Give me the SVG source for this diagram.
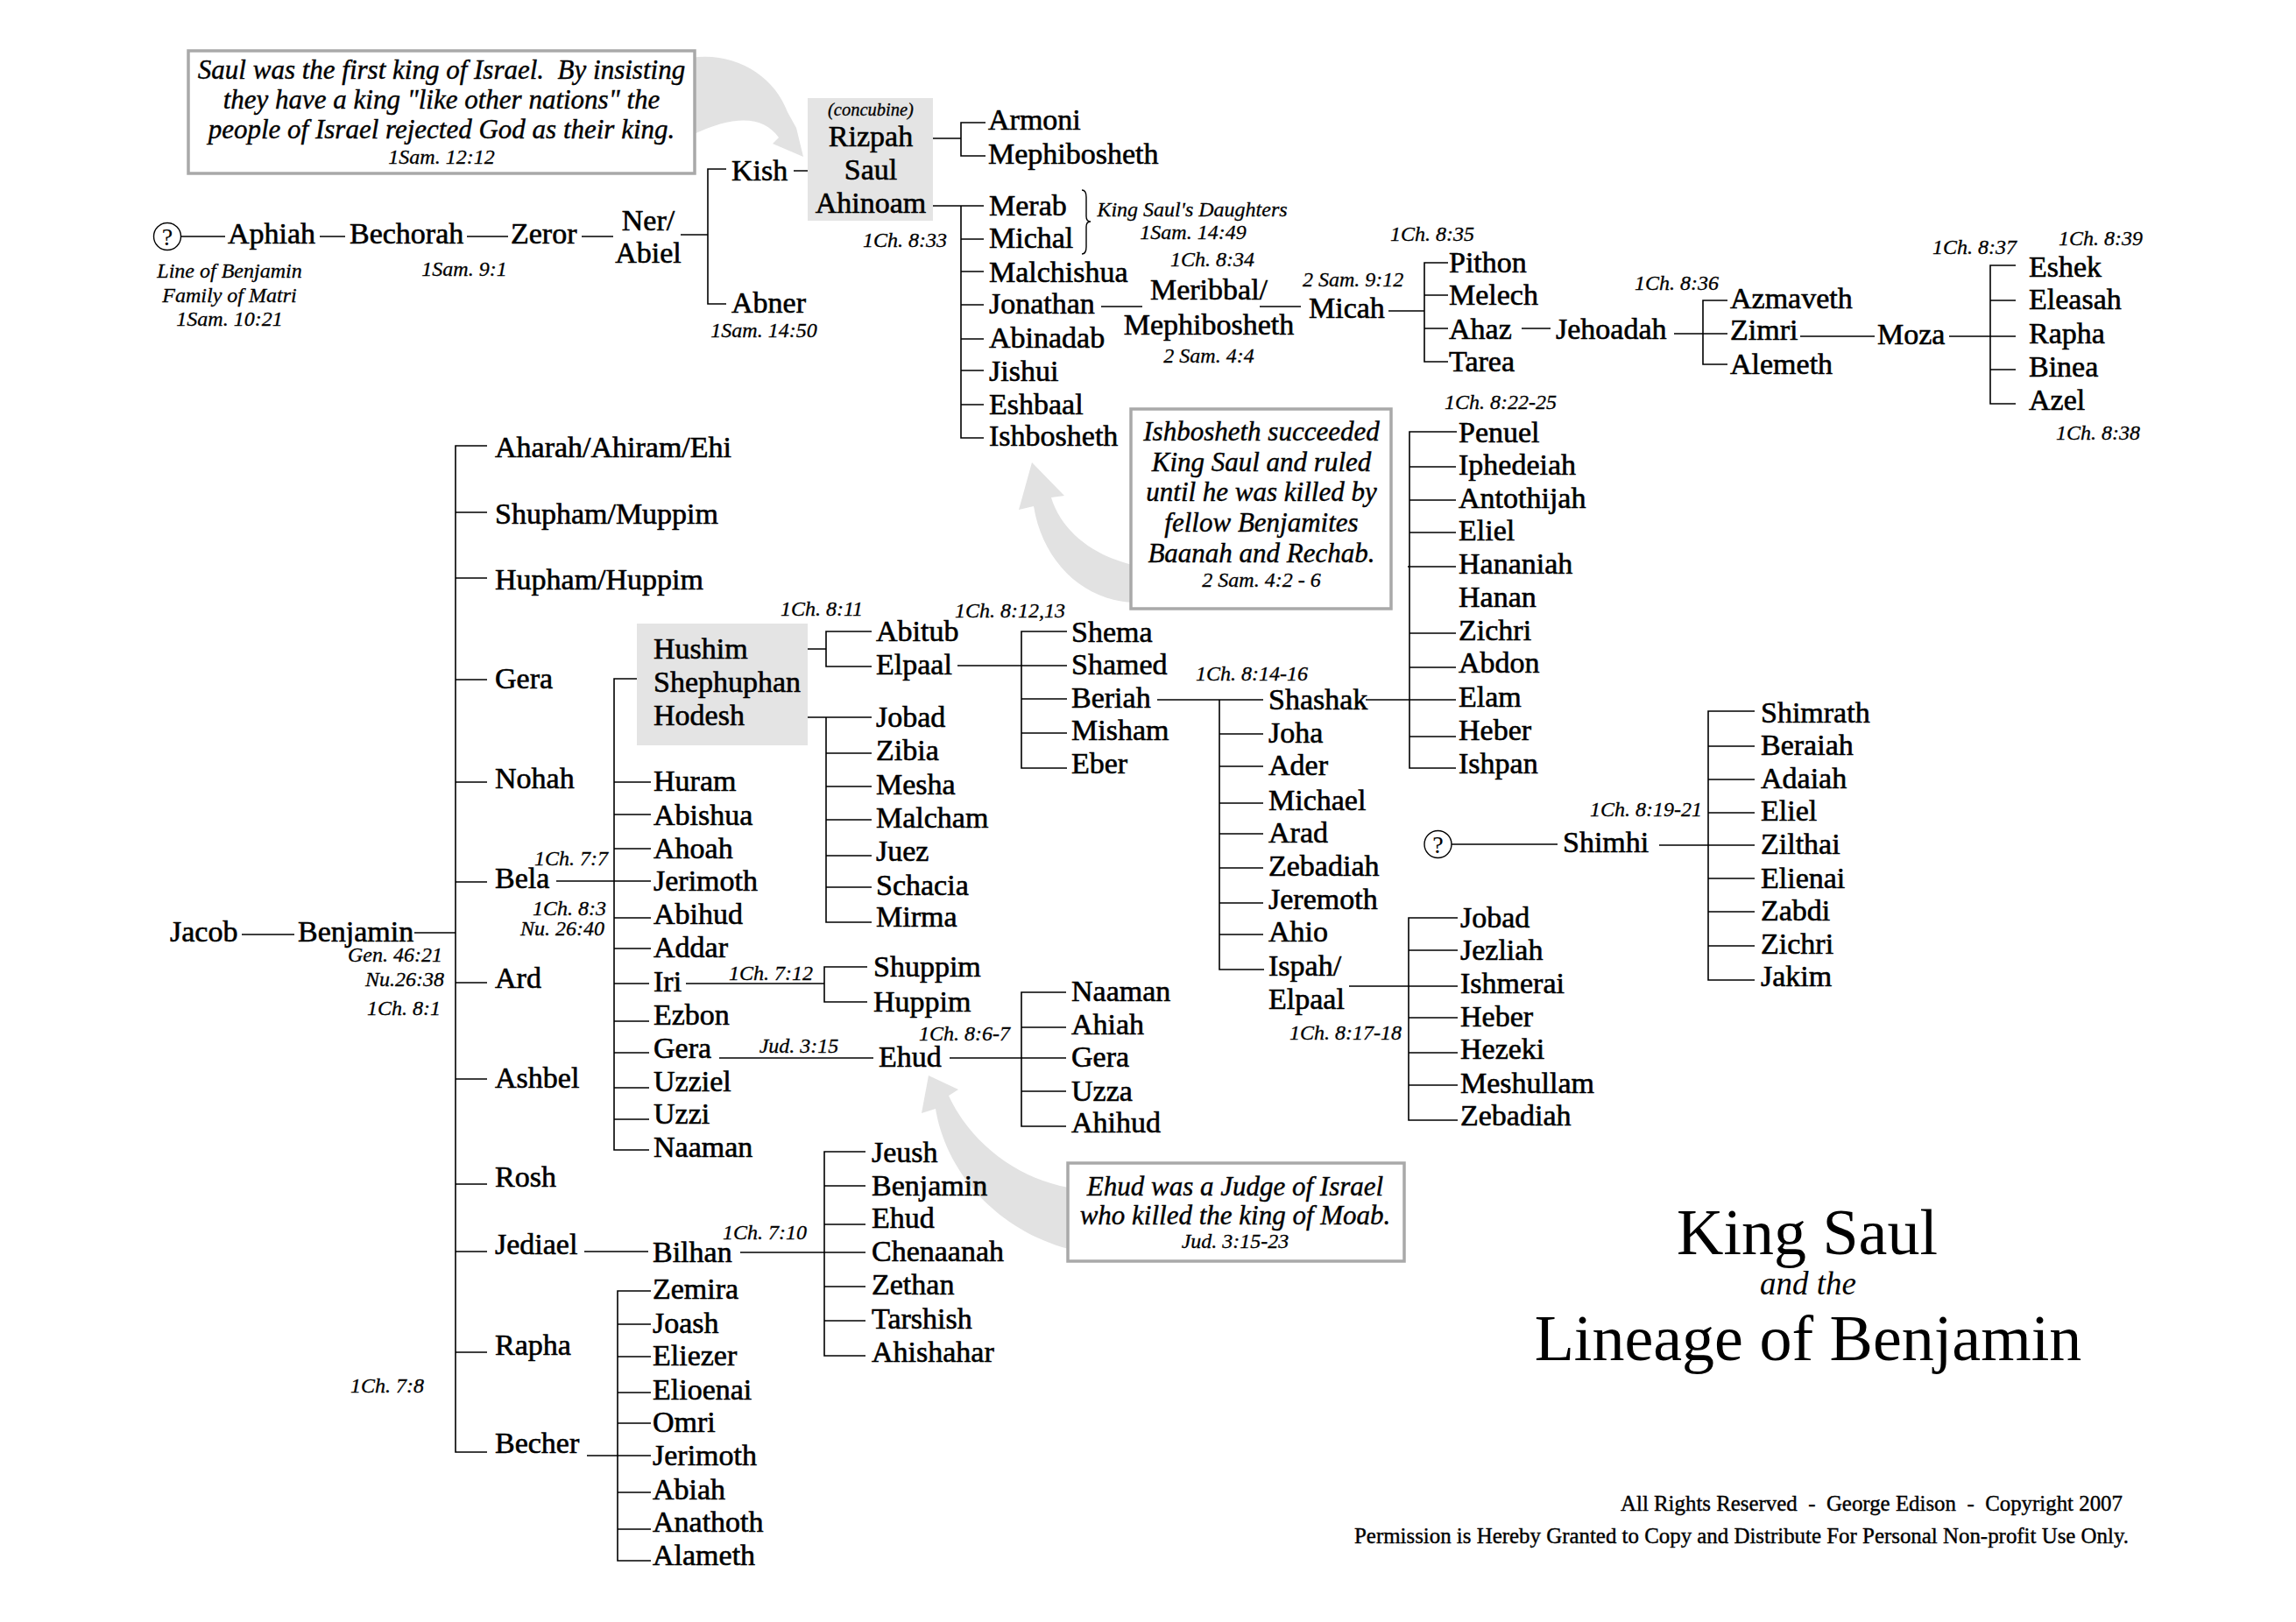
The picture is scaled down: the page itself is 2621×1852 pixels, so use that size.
<svg xmlns="http://www.w3.org/2000/svg" width="2621" height="1852" viewBox="0 0 2621 1852">
<style>
text{font-family:"Liberation Serif","Times New Roman",serif;fill:#000}
.n{font-size:34px;stroke:#000;stroke-width:0.6}
.r{font-size:24px;font-style:italic;stroke:#000;stroke-width:0.3}
.a{font-size:31px;font-style:italic;text-anchor:middle;stroke:#000;stroke-width:0.4}
.c{text-anchor:middle}
.e{text-anchor:end}
.ln{stroke:#000;stroke-width:1.6;fill:none}
.box{fill:#fff;stroke:#a9a9a9;stroke-width:3.5}
.gbox{fill:#e4e4e4}
.arr{fill:#e2e2e2}
.q{fill:none;stroke:#000;stroke-width:1.4}
</style>
<rect width="2621" height="1852" fill="#fff"/>
<g id="arrows">
<path class="arr" d="M788,66 C838,58 884,86 899,128 L909,146 L917,179 L882,164 L889,157 C872,133 840,130 790,154 Z"/>
<path class="arr" d="M1293,688 C1235,685 1190,640 1180,578 L1163,582 L1178,528 L1215,566 L1200,568 C1212,608 1250,635 1293,645 Z"/>
<path class="arr" d="M1220,1426 C1140,1405 1080,1340 1068,1266 L1052,1271 L1060,1228 L1094,1244 L1083,1251 C1108,1305 1160,1345 1220,1356 Z"/>
</g>
<g id="connectors">
<path class="ln" d="M207,270H257M365,270H394M533,270H580M664,270H700M777,268H808M829,193H808V347H829M906,195H940"/>
<path class="ln" d="M1050,158H1097M1125,140H1097V178H1125"/>
<path class="ln" d="M1061,235H1123M1097,235V500H1123M1097,273H1123M1097,310H1123M1097,348H1123M1097,387H1123M1097,423H1123M1097,462H1123"/>
<path class="q" d="M1235,217Q1240,217 1240,225V247Q1240,253 1245,253Q1240,253 1240,259V282Q1240,290 1235,290"/>
<path class="ln" d="M1257,350H1304M1438,350H1485M1585,355H1626M1653,300H1626V413H1653M1626,337H1653M1626,375H1653"/>
<path class="ln" d="M1737,375H1770M1911,381H1972M1972,343H1944V416H1972M2055,384H2140M2225,384H2301M2301,303H2272V461H2301M2272,343H2301M2272,422H2301"/>
<path class="ln" d="M276,1067H336M473,1065H520M556,509H520V1658H556M520,585H556M520,660H556M520,776H556M520,893H556M520,1007H556M520,1122H556M520,1232H556M520,1352H556M520,1429H556M520,1544H556"/>
<path class="ln" d="M635,1006H743M743,775H701V1313H741M701,893H743M701,930H743M701,969H743M701,1048H743M701,1083H743M701,1123H741M701,1166H741M701,1202H741M701,1242H741M701,1278H741"/>
<path class="ln" d="M865,741H943M995,721H943V761H995M862,819H995M943,819V1053H995M943,860H995M943,898H995M943,936H995M943,977H995M943,1013H995"/>
<path class="ln" d="M1093,760H1218M1218,721H1166V877H1218M1166,798H1218M1166,837H1218"/>
<path class="ln" d="M1321,799H1442M1392,799V1107H1443M1392,838H1442M1392,875H1442M1392,917H1442M1392,952H1442M1392,991H1442M1392,1031H1442M1392,1067H1442"/>
<path class="ln" d="M1559,799H1662M1663,493H1609V877H1662M1609,533H1662M1609,571H1662M1609,608H1662M1607,647H1662M1609,723H1662M1609,762H1662M1609,841H1662"/>
<path class="ln" d="M1540,1126H1664M1664,1048H1608V1279H1664M1608,1085H1664M1608,1162H1664M1608,1202H1664M1608,1239H1664"/>
<path class="ln" d="M1657,964H1778M1894,965H2003M2003,812H1950V1119H2003M1950,852H2003M1950,890H2003M1950,928H2003M1950,1003H2003M1950,1041H2003M1950,1080H2003"/>
<path class="ln" d="M783,1123H941M990,1104H941V1144H990M821,1208H997M1084,1208H1217M1217,1133H1166V1286H1217M1166,1173H1217M1166,1246H1217"/>
<path class="ln" d="M667,1429H740M845,1430H988M988,1315H941V1548H988M941,1354H988M941,1398H988M941,1469H988M941,1508H988"/>
<path class="ln" d="M670,1662H743M743,1474H705V1782H743M705,1512H743M705,1549H743M705,1590H743M705,1625H743M705,1704H743M705,1746H743"/>
</g>
<g id="note-saul">
<rect class="box" x="215" y="58" width="578" height="140"/>
<text class="a" x="504" y="90" xml:space="preserve">Saul was the first king of Israel.  By insisting</text>
<text class="a" x="504" y="124">they have a king "like other nations" the</text>
<text class="a" x="504" y="158">people of Israel rejected God as their king.</text>
<text class="r c" x="504" y="187">1Sam. 12:12</text>
</g>
<g id="note-ishbosheth">
<rect class="box" x="1291" y="467" width="297" height="228"/>
<text class="a" x="1440" y="503">Ishbosheth succeeded</text>
<text class="a" x="1440" y="538">King Saul and ruled</text>
<text class="a" x="1440" y="572">until he was killed by</text>
<text class="a" x="1440" y="607">fellow Benjamites</text>
<text class="a" x="1440" y="642">Baanah and Rechab.</text>
<text class="r c" x="1440" y="670">2 Sam. 4:2 - 6</text>
</g>
<g id="note-ehud">
<rect class="box" x="1219" y="1328" width="384" height="112"/>
<text class="a" x="1410" y="1365">Ehud was a Judge of Israel</text>
<text class="a" x="1410" y="1398">who killed the king of Moab.</text>
<text class="r c" x="1410" y="1425">Jud. 3:15-23</text>
</g>
<g id="unknown1"><circle class="q" cx="191" cy="270" r="15.5"/><text class="c" x="191" y="280" font-size="28">?</text></g>
<g id="aphiah"><text class="n" x="260" y="278">Aphiah</text></g>
<g id="bechorah"><text class="n" x="399" y="278">Bechorah</text></g>
<g id="zeror"><text class="n" x="583" y="278">Zeror</text></g>
<g id="ner"><text class="n c" x="740" y="263">Ner/</text><text class="n c" x="740" y="300">Abiel</text></g>
<g id="kish"><text class="n" x="835" y="206">Kish</text></g>
<g id="abner"><text class="n" x="835" y="357">Abner</text></g>
<g id="refs-top">
<text class="r c" x="262" y="317">Line of Benjamin</text>
<text class="r c" x="262" y="345">Family of Matri</text>
<text class="r c" x="262" y="372">1Sam. 10:21</text>
<text class="r c" x="530" y="315">1Sam. 9:1</text>
<text class="r c" x="872" y="385">1Sam. 14:50</text>
<text class="r e" x="1081" y="282">1Ch. 8:33</text>
<text class="r c" x="1361" y="247">King Saul's Daughters</text>
<text class="r c" x="1362" y="273">1Sam. 14:49</text>
<text class="r c" x="1384" y="304">1Ch. 8:34</text>
<text class="r c" x="1380" y="414">2 Sam. 4:4</text>
<text class="r" x="1487" y="327">2 Sam. 9:12</text>
<text class="r c" x="1635" y="275">1Ch. 8:35</text>
<text class="r c" x="1914" y="331">1Ch. 8:36</text>
<text class="r c" x="2254" y="290">1Ch. 8:37</text>
<text class="r c" x="2398" y="280">1Ch. 8:39</text>
<text class="r c" x="2395" y="502">1Ch. 8:38</text>
<text class="r c" x="1713" y="467">1Ch. 8:22-25</text>
</g>
<g id="saul-family">
<rect class="gbox" x="922" y="112" width="143" height="140"/>
<text class="c" x="994" y="132" font-size="20.5" font-style="italic" stroke="#000" stroke-width="0.3">(concubine)</text>
<text class="n c" x="994" y="167">Rizpah</text>
<text class="n c" x="994" y="205">Saul</text>
<text class="n c" x="994" y="243">Ahinoam</text>
</g>
<g id="armoni"><text class="n" x="1128" y="148">Armoni</text></g>
<g id="mephibosheth1"><text class="n" x="1128" y="187">Mephibosheth</text></g>
<g id="merab"><text class="n" x="1129" y="246">Merab</text></g>
<g id="michal"><text class="n" x="1129" y="283">Michal</text></g>
<g id="malchishua"><text class="n" x="1129" y="322">Malchishua</text></g>
<g id="jonathan"><text class="n" x="1129" y="358">Jonathan</text></g>
<g id="abinadab"><text class="n" x="1129" y="397">Abinadab</text></g>
<g id="jishui"><text class="n" x="1129" y="435">Jishui</text></g>
<g id="eshbaal"><text class="n" x="1129" y="473">Eshbaal</text></g>
<g id="ishbosheth"><text class="n" x="1129" y="509">Ishbosheth</text></g>
<g id="meribbal"><text class="n c" x="1380" y="342">Meribbal/</text><text class="n c" x="1380" y="382">Mephibosheth</text></g>
<g id="micah"><text class="n" x="1494" y="363">Micah</text></g>
<g id="pithon"><text class="n" x="1654" y="311">Pithon</text></g>
<g id="melech"><text class="n" x="1654" y="348">Melech</text></g>
<g id="ahaz"><text class="n" x="1654" y="387">Ahaz</text></g>
<g id="tarea"><text class="n" x="1654" y="424">Tarea</text></g>
<g id="jehoadah"><text class="n" x="1776" y="387">Jehoadah</text></g>
<g id="azmaveth"><text class="n" x="1975" y="352">Azmaveth</text></g>
<g id="zimri"><text class="n" x="1975" y="388">Zimri</text></g>
<g id="alemeth"><text class="n" x="1975" y="427">Alemeth</text></g>
<g id="moza"><text class="n" x="2143" y="393">Moza</text></g>
<g id="eshek"><text class="n" x="2316" y="316">Eshek</text></g>
<g id="eleasah"><text class="n" x="2316" y="353">Eleasah</text></g>
<g id="rapha2"><text class="n" x="2316" y="392">Rapha</text></g>
<g id="binea"><text class="n" x="2316" y="430">Binea</text></g>
<g id="azel"><text class="n" x="2316" y="468">Azel</text></g>
<g id="penuel"><text class="n" x="1665" y="505">Penuel</text></g>
<g id="iphedeiah"><text class="n" x="1665" y="542">Iphedeiah</text></g>
<g id="antothijah"><text class="n" x="1665" y="580">Antothijah</text></g>
<g id="eliel1"><text class="n" x="1665" y="617">Eliel</text></g>
<g id="hananiah"><text class="n" x="1665" y="655">Hananiah</text></g>
<g id="hanan"><text class="n" x="1665" y="693">Hanan</text></g>
<g id="zichri1"><text class="n" x="1665" y="731">Zichri</text></g>
<g id="abdon"><text class="n" x="1665" y="768">Abdon</text></g>
<g id="elam"><text class="n" x="1665" y="807">Elam</text></g>
<g id="heber1"><text class="n" x="1665" y="845">Heber</text></g>
<g id="ishpan"><text class="n" x="1665" y="883">Ishpan</text></g>
<g id="jacob"><text class="n" x="194" y="1075">Jacob</text></g>
<g id="benjamin"><text class="n" x="340" y="1075">Benjamin</text></g>
<g id="refs-benjamin">
<text class="r" x="397" y="1098">Gen. 46:21</text>
<text class="r" x="417" y="1126">Nu.26:38</text>
<text class="r" x="419" y="1159">1Ch. 8:1</text>
<text class="r" x="610" y="988">1Ch. 7:7</text>
<text class="r" x="608" y="1045">1Ch. 8:3</text>
<text class="r" x="594" y="1068">Nu. 26:40</text>
<text class="r c" x="442" y="1590">1Ch. 7:8</text>
<text class="r c" x="938" y="703">1Ch. 8:11</text>
<text class="r c" x="1153" y="705">1Ch. 8:12,13</text>
<text class="r c" x="1429" y="777">1Ch. 8:14-16</text>
<text class="r e" x="1600" y="1187">1Ch. 8:17-18</text>
<text class="r e" x="1943" y="932">1Ch. 8:19-21</text>
<text class="r c" x="880" y="1119">1Ch. 7:12</text>
<text class="r c" x="912" y="1202">Jud. 3:15</text>
<text class="r c" x="1101" y="1188">1Ch. 8:6-7</text>
<text class="r c" x="873" y="1415">1Ch. 7:10</text>
</g>
<g id="aharah"><text class="n" x="565" y="522">Aharah/Ahiram/Ehi</text></g>
<g id="shupham"><text class="n" x="565" y="598">Shupham/Muppim</text></g>
<g id="hupham"><text class="n" x="565" y="673">Hupham/Huppim</text></g>
<g id="gera1"><text class="n" x="565" y="786">Gera</text></g>
<g id="nohah"><text class="n" x="565" y="900">Nohah</text></g>
<g id="bela"><text class="n" x="565" y="1014">Bela</text></g>
<g id="ard"><text class="n" x="565" y="1128">Ard</text></g>
<g id="ashbel"><text class="n" x="565" y="1242">Ashbel</text></g>
<g id="rosh"><text class="n" x="565" y="1355">Rosh</text></g>
<g id="jediael"><text class="n" x="565" y="1432">Jediael</text></g>
<g id="rapha1"><text class="n" x="565" y="1547">Rapha</text></g>
<g id="becher"><text class="n" x="565" y="1659">Becher</text></g>
<g id="gera-sons">
<rect class="gbox" x="727" y="712" width="195" height="139"/>
<text class="n" x="746" y="752">Hushim</text>
<text class="n" x="746" y="790">Shephuphan</text>
<text class="n" x="746" y="828">Hodesh</text>
</g>
<g id="huram"><text class="n" x="746" y="903">Huram</text></g>
<g id="abishua"><text class="n" x="746" y="942">Abishua</text></g>
<g id="ahoah"><text class="n" x="746" y="980">Ahoah</text></g>
<g id="jerimoth1"><text class="n" x="746" y="1017">Jerimoth</text></g>
<g id="abihud"><text class="n" x="746" y="1055">Abihud</text></g>
<g id="addar"><text class="n" x="746" y="1093">Addar</text></g>
<g id="iri"><text class="n" x="746" y="1132">Iri</text></g>
<g id="ezbon"><text class="n" x="746" y="1170">Ezbon</text></g>
<g id="gera2"><text class="n" x="746" y="1208">Gera</text></g>
<g id="uzziel"><text class="n" x="746" y="1246">Uzziel</text></g>
<g id="uzzi"><text class="n" x="746" y="1283">Uzzi</text></g>
<g id="naaman1"><text class="n" x="746" y="1321">Naaman</text></g>
<g id="abitub"><text class="n" x="1000" y="732">Abitub</text></g>
<g id="elpaal1"><text class="n" x="1000" y="770">Elpaal</text></g>
<g id="jobad1"><text class="n" x="1000" y="830">Jobad</text></g>
<g id="zibia"><text class="n" x="1000" y="868">Zibia</text></g>
<g id="mesha"><text class="n" x="1000" y="907">Mesha</text></g>
<g id="malcham"><text class="n" x="1000" y="945">Malcham</text></g>
<g id="juez"><text class="n" x="1000" y="983">Juez</text></g>
<g id="schacia"><text class="n" x="1000" y="1022">Schacia</text></g>
<g id="mirma"><text class="n" x="1000" y="1058">Mirma</text></g>
<g id="shema"><text class="n" x="1223" y="733">Shema</text></g>
<g id="shamed"><text class="n" x="1223" y="770">Shamed</text></g>
<g id="beriah"><text class="n" x="1223" y="808">Beriah</text></g>
<g id="misham"><text class="n" x="1223" y="845">Misham</text></g>
<g id="eber"><text class="n" x="1223" y="883">Eber</text></g>
<g id="shashak"><text class="n" x="1448" y="810">Shashak</text></g>
<g id="joha"><text class="n" x="1448" y="848">Joha</text></g>
<g id="ader"><text class="n" x="1448" y="885">Ader</text></g>
<g id="michael"><text class="n" x="1448" y="925">Michael</text></g>
<g id="arad"><text class="n" x="1448" y="962">Arad</text></g>
<g id="zebadiah1"><text class="n" x="1448" y="1000">Zebadiah</text></g>
<g id="jeremoth"><text class="n" x="1448" y="1038">Jeremoth</text></g>
<g id="ahio"><text class="n" x="1448" y="1075">Ahio</text></g>
<g id="ispah"><text class="n" x="1448" y="1114">Ispah/</text><text class="n" x="1448" y="1152">Elpaal</text></g>
<g id="jobad2"><text class="n" x="1667" y="1059">Jobad</text></g>
<g id="jezliah"><text class="n" x="1667" y="1096">Jezliah</text></g>
<g id="ishmerai"><text class="n" x="1667" y="1134">Ishmerai</text></g>
<g id="heber2"><text class="n" x="1667" y="1172">Heber</text></g>
<g id="hezeki"><text class="n" x="1667" y="1209">Hezeki</text></g>
<g id="meshullam"><text class="n" x="1667" y="1248">Meshullam</text></g>
<g id="zebadiah2"><text class="n" x="1667" y="1285">Zebadiah</text></g>
<g id="unknown2"><circle class="q" cx="1641.5" cy="964" r="15.5"/><text class="c" x="1641.5" y="974" font-size="28">?</text></g>
<g id="shimhi"><text class="n" x="1784" y="973">Shimhi</text></g>
<g id="shimrath"><text class="n" x="2010" y="825">Shimrath</text></g>
<g id="beraiah"><text class="n" x="2010" y="862">Beraiah</text></g>
<g id="adaiah"><text class="n" x="2010" y="900">Adaiah</text></g>
<g id="eliel2"><text class="n" x="2010" y="937">Eliel</text></g>
<g id="zilthai"><text class="n" x="2010" y="975">Zilthai</text></g>
<g id="elienai"><text class="n" x="2010" y="1014">Elienai</text></g>
<g id="zabdi"><text class="n" x="2010" y="1051">Zabdi</text></g>
<g id="zichri2"><text class="n" x="2010" y="1089">Zichri</text></g>
<g id="jakim"><text class="n" x="2010" y="1126">Jakim</text></g>
<g id="shuppim"><text class="n" x="997" y="1115">Shuppim</text></g>
<g id="huppim"><text class="n" x="997" y="1155">Huppim</text></g>
<g id="ehud1"><text class="n" x="1003" y="1218">Ehud</text></g>
<g id="naaman2"><text class="n" x="1223" y="1143">Naaman</text></g>
<g id="ahiah"><text class="n" x="1223" y="1181">Ahiah</text></g>
<g id="gera3"><text class="n" x="1223" y="1218">Gera</text></g>
<g id="uzza"><text class="n" x="1223" y="1257">Uzza</text></g>
<g id="ahihud"><text class="n" x="1223" y="1293">Ahihud</text></g>
<g id="bilhan"><text class="n" x="745" y="1441">Bilhan</text></g>
<g id="jeush"><text class="n" x="995" y="1327">Jeush</text></g>
<g id="benjamin2"><text class="n" x="995" y="1365">Benjamin</text></g>
<g id="ehud2"><text class="n" x="995" y="1402">Ehud</text></g>
<g id="chenaanah"><text class="n" x="995" y="1440">Chenaanah</text></g>
<g id="zethan"><text class="n" x="995" y="1478">Zethan</text></g>
<g id="tarshish"><text class="n" x="995" y="1517">Tarshish</text></g>
<g id="ahishahar"><text class="n" x="995" y="1555">Ahishahar</text></g>
<g id="zemira"><text class="n" x="745" y="1483">Zemira</text></g>
<g id="joash"><text class="n" x="745" y="1522">Joash</text></g>
<g id="eliezer"><text class="n" x="745" y="1559">Eliezer</text></g>
<g id="elioenai"><text class="n" x="745" y="1598">Elioenai</text></g>
<g id="omri"><text class="n" x="745" y="1635">Omri</text></g>
<g id="jerimoth2"><text class="n" x="745" y="1673">Jerimoth</text></g>
<g id="abiah"><text class="n" x="745" y="1712">Abiah</text></g>
<g id="anathoth"><text class="n" x="745" y="1749">Anathoth</text></g>
<g id="alameth"><text class="n" x="745" y="1787">Alameth</text></g>
<g id="title">
<text class="c" x="2063" y="1432" font-size="74">King Saul</text>
<text class="c" x="2064" y="1478" font-size="37" font-style="italic">and the</text>
<text class="c" x="2064" y="1553" font-size="74">Lineage of Benjamin</text>
</g>
<g id="footer">
<text x="1850" y="1725" font-size="25" textLength="573" lengthAdjust="spacingAndGlyphs" stroke="#000" stroke-width="0.4" xml:space="preserve">All Rights Reserved  -  George Edison  -  Copyright 2007</text>
<text x="1546" y="1762" font-size="25" textLength="884" lengthAdjust="spacingAndGlyphs" stroke="#000" stroke-width="0.4">Permission is Hereby Granted to Copy and Distribute For Personal Non-profit Use Only.</text>
</g>
</svg>
